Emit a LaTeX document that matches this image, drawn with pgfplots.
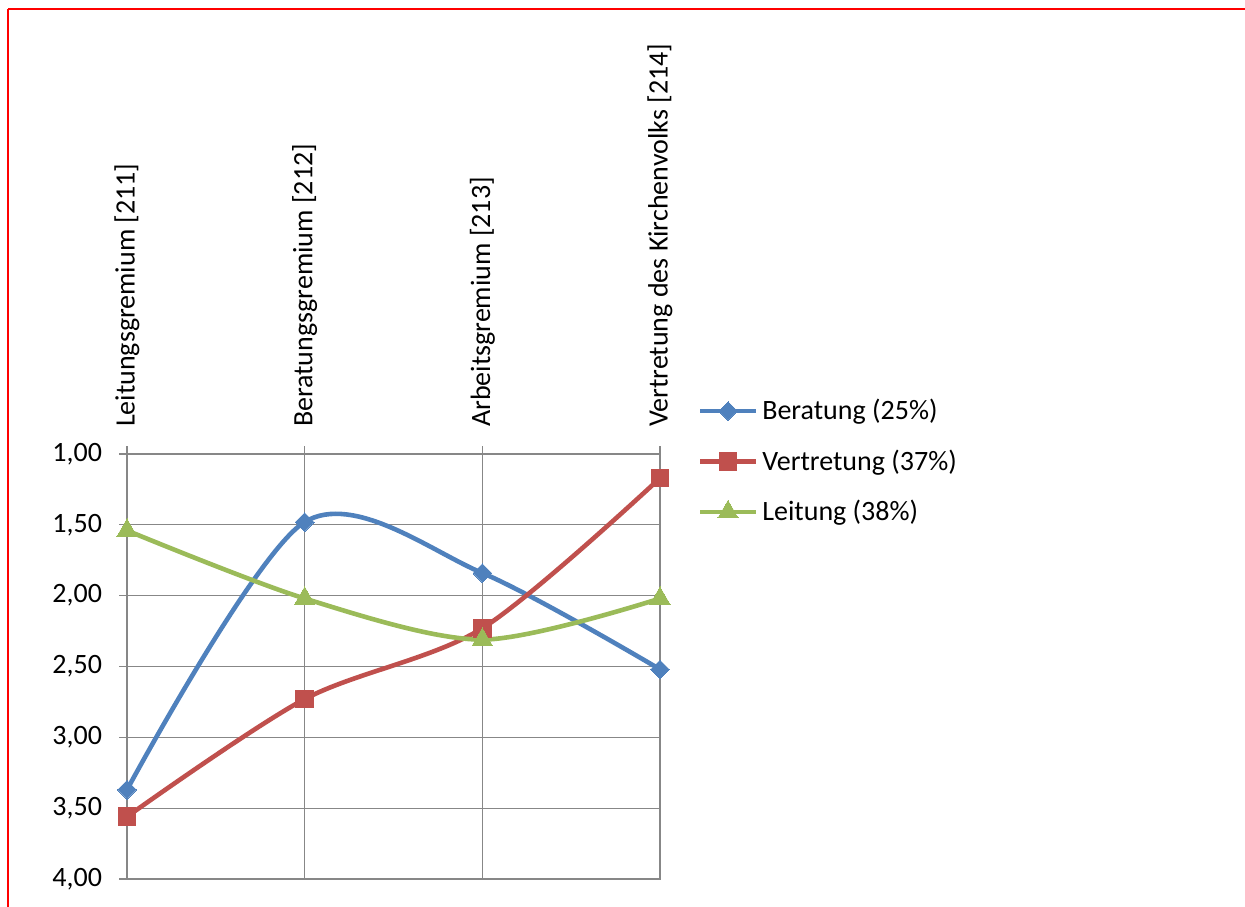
\documentclass[border=0pt]{standalone}
\usepackage{fontspec}
\setmainfont{Carlito}
\usepackage{pgfplots}
\pgfplotsset{compat=1.18}
\definecolor{cBlue}{HTML}{4F81BD}
\definecolor{cRed}{HTML}{C0504D}
\definecolor{cGreen}{HTML}{9BBB59}
\definecolor{cGrid}{HTML}{878787}
\begin{document}
\begin{tikzpicture}[x=0.5pt,y=0.5pt]
\useasboundingbox (0,0) rectangle (1245,906);
\draw[red, line width=1pt] (8,897) -- (1260,897);
\draw[red, line width=1pt] (8,897) -- (8,-20);
\begin{axis}[
  at={(63.5pt,13.5pt)}, anchor=south west,
  scale only axis,
  width=266.5pt, height=212.5pt,
  xmin=0, xmax=3, ymin=1, ymax=4,
  y dir=reverse,
  xtick={0,1,2,3},
  xticklabels={Leitungsgremium [211],Beratungsgremium [212],Arbeitsgremium [213],Vertretung des Kirchenvolks [214]},
  xticklabel pos=upper,
  xticklabel style={rotate=90, anchor=west, font=\fontsize{14}{16}\selectfont, xshift=6pt},
  ytick={1,1.5,2,2.5,3,3.5,4},
  yticklabel style={font=\fontsize{14}{16}\selectfont, xshift=-5pt},
  /pgf/number format/.cd, fixed, fixed zerofill, precision=2, use comma, assume math mode=true,
  /pgfplots/.cd,
  grid=major,
  grid style={cGrid, line width=0.6pt},
  axis line style={cGrid, line width=0.6pt},
  tick style={cGrid, line width=0.6pt},
  tick align=outside,
  major tick length=4pt,
  xtick pos=upper, ytick pos=left,
  legend style={at={(1.07,1.139)}, anchor=north west, draw=none, fill=none,
    font=\fontsize{14}{16}\selectfont, row sep=9.5pt, inner sep=0pt},
  legend cell align=left,
  legend image code/.code={\draw[mark repeat=2,mark phase=2,#1] plot coordinates {(0pt,0pt)(14pt,0pt)(28pt,0pt)};},
  every axis plot/.append style={line width=2.3pt, smooth, tension=0.5},
]
\addplot[cBlue, mark=square*, mark size=3.3pt, mark options={solid, line width=0pt, fill=cBlue, rotate=45}] coordinates {(0,3.37)(1,1.48)(2,1.84)(3,2.52)};
\addlegendentry{Beratung (25\%)}
\addplot[cRed, mark=square*, mark size=4.4pt, mark options={solid, line width=0pt, fill=cRed}] coordinates {(0,3.56)(1,2.73)(2,2.23)(3,1.17)};
\addlegendentry{Vertretung (37\%)}
\addplot[cGreen, mark=triangle*, mark size=5.8pt, mark options={solid, line width=0pt, fill=cGreen}] coordinates {(0,1.54)(1,2.02)(2,2.31)(3,2.02)};
\addlegendentry{Leitung (38\%)}
\end{axis}
\end{tikzpicture}
\end{document}
